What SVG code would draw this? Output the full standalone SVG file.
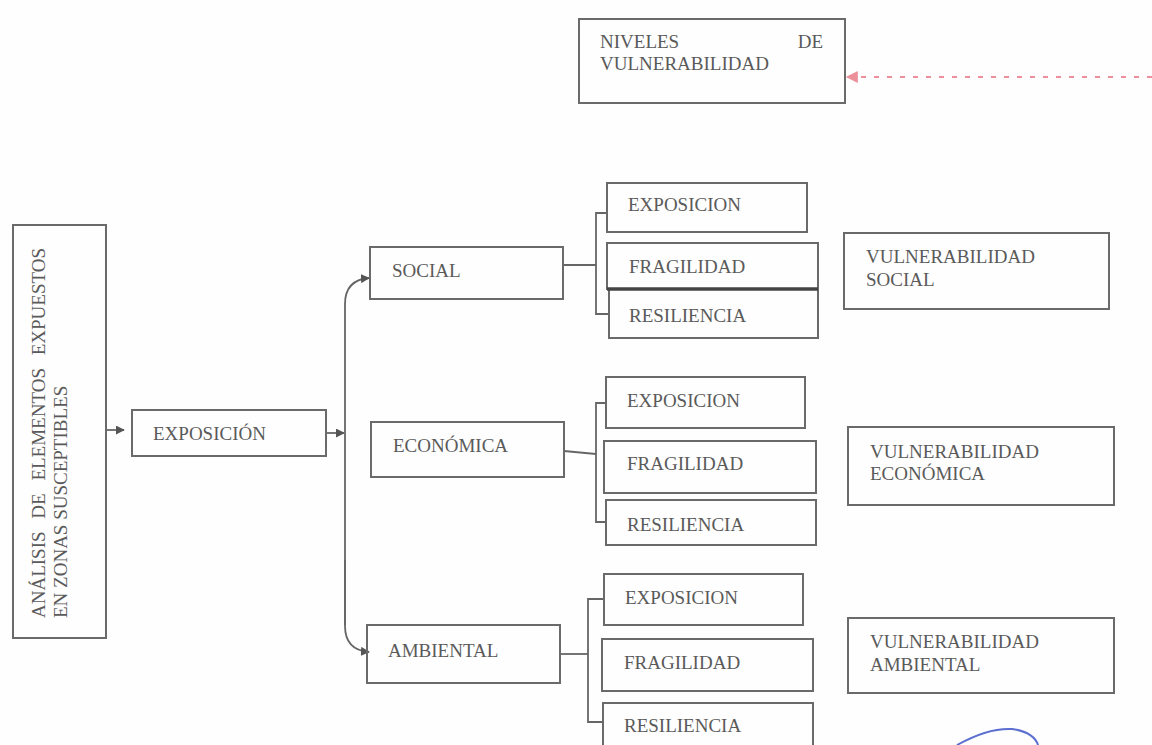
<svg xmlns="http://www.w3.org/2000/svg" width="1152" height="745" viewBox="0 0 1152 745">
<defs>
<style>
.box{fill:none;stroke:#6a6a6a;stroke-width:2}
.t{font-family:"Liberation Serif","Times New Roman",serif;font-size:19px;fill:#5a5a5a}
.ln{fill:none;stroke:#666;stroke-width:1.8}
.red{fill:none;stroke:#ec8f9a;stroke-width:2;stroke-dasharray:5 8}
</style>
<marker id="ah" viewBox="0 0 10 10" refX="9" refY="5" markerWidth="9" markerHeight="9" markerUnits="userSpaceOnUse" orient="auto">
<path d="M0,0 L10,5 L0,10 Z" fill="#555"/>
</marker>
<marker id="ahr" viewBox="0 0 10 10" refX="9" refY="5" markerWidth="14" markerHeight="12" markerUnits="userSpaceOnUse" orient="auto">
<path d="M0,0 L10,5 L0,10 Z" fill="#ec8f9a"/>
</marker>
</defs>
<rect width="1152" height="745" fill="#fefefe"/>

<g id="connectors">
<path class="red" d="M1152,77 L847,77" marker-end="url(#ahr)"/>
<path class="ln" d="M106,430 L124,430" marker-end="url(#ah)"/>
<path class="ln" d="M326,433 L344,433" marker-end="url(#ah)"/>
<path class="ln" d="M345,625 L345,304 Q345,280 369,278" marker-end="url(#ah)"/>
<path class="ln" d="M345,560 L345,626 Q345,650 369,652" marker-end="url(#ah)"/>
<path class="ln" d="M563,265 L596,265"/>
<path class="ln" d="M607,213 H596 V314 H608"/>
<path class="ln" d="M564,451 L596,454"/>
<path class="ln" d="M606,403 H596 V522 H606"/>
<path class="ln" d="M560,654 L588,654"/>
<path class="ln" d="M604,599 H588 V722 H603"/>
</g>

<g id="niveles">
<rect class="box" x="579" y="19" width="266" height="84"/>
<text class="t" x="600" y="48">NIVELES</text>
<text class="t" x="823" y="48" text-anchor="end">DE</text>
<text class="t" x="600" y="70">VULNERABILIDAD</text>
</g>

<g id="analisis">
<rect class="box" x="13" y="225" width="93" height="413"/>
<text class="t" transform="translate(45,618) rotate(-90)" word-spacing="8">ANÁLISIS DE ELEMENTOS EXPUESTOS</text>
<text class="t" transform="translate(67,618) rotate(-90)">EN ZONAS SUSCEPTIBLES</text>
</g>

<g id="exposicion">
<rect class="box" x="132" y="410" width="194" height="46"/>
<text class="t" x="153" y="440">EXPOSICIÓN</text>
</g>

<g id="social">
<rect class="box" x="370" y="247" width="193" height="52"/>
<text class="t" x="392" y="277">SOCIAL</text>
</g>
<g id="social-exposicion">
<rect class="box" x="607" y="183" width="200" height="49"/>
<text class="t" x="628" y="211">EXPOSICION</text>
</g>
<g id="social-fragilidad">
<rect class="box" x="607" y="243" width="211" height="46"/>
<text class="t" x="629" y="273">FRAGILIDAD</text>
</g>
<g id="social-resiliencia">
<rect class="box" x="609" y="289" width="209" height="49"/>
<line x1="607" y1="289" x2="818" y2="289" stroke="#444" stroke-width="3.5"/>
<text class="t" x="629" y="322">RESILIENCIA</text>
</g>

<g id="economica">
<rect class="box" x="371" y="422" width="193" height="55"/>
<text class="t" x="393" y="452">ECONÓMICA</text>
</g>
<g id="economica-exposicion">
<rect class="box" x="606" y="377" width="199" height="51"/>
<text class="t" x="627" y="407">EXPOSICION</text>
</g>
<g id="economica-fragilidad">
<rect class="box" x="604" y="441" width="212" height="52"/>
<text class="t" x="627" y="470">FRAGILIDAD</text>
</g>
<g id="economica-resiliencia">
<rect class="box" x="606" y="500" width="210" height="45"/>
<text class="t" x="627" y="531">RESILIENCIA</text>
</g>

<g id="ambiental">
<rect class="box" x="367" y="625" width="193" height="58"/>
<text class="t" x="388" y="657">AMBIENTAL</text>
</g>
<g id="ambiental-exposicion">
<rect class="box" x="604" y="574" width="199" height="51"/>
<text class="t" x="625" y="604">EXPOSICION</text>
</g>
<g id="ambiental-fragilidad">
<rect class="box" x="602" y="639" width="211" height="52"/>
<text class="t" x="624" y="669">FRAGILIDAD</text>
</g>
<g id="ambiental-resiliencia">
<rect class="box" x="603" y="703" width="210" height="60"/>
<text class="t" x="624" y="732">RESILIENCIA</text>
</g>

<g id="vuln-social">
<rect class="box" x="844" y="233" width="265" height="76"/>
<text class="t" x="866" y="263">VULNERABILIDAD</text>
<text class="t" x="866" y="286">SOCIAL</text>
</g>
<g id="vuln-economica">
<rect class="box" x="848" y="427" width="266" height="78"/>
<text class="t" x="870" y="458">VULNERABILIDAD</text>
<text class="t" x="870" y="480">ECONÓMICA</text>
</g>
<g id="vuln-ambiental">
<rect class="box" x="848" y="618" width="266" height="75"/>
<text class="t" x="870" y="648">VULNERABILIDAD</text>
<text class="t" x="870" y="671">AMBIENTAL</text>
</g>

<path d="M957,745 C975,735 995,728 1012,729 C1028,731 1036,738 1038,745" fill="none" stroke="#5a6fd0" stroke-width="2"/>
</svg>
